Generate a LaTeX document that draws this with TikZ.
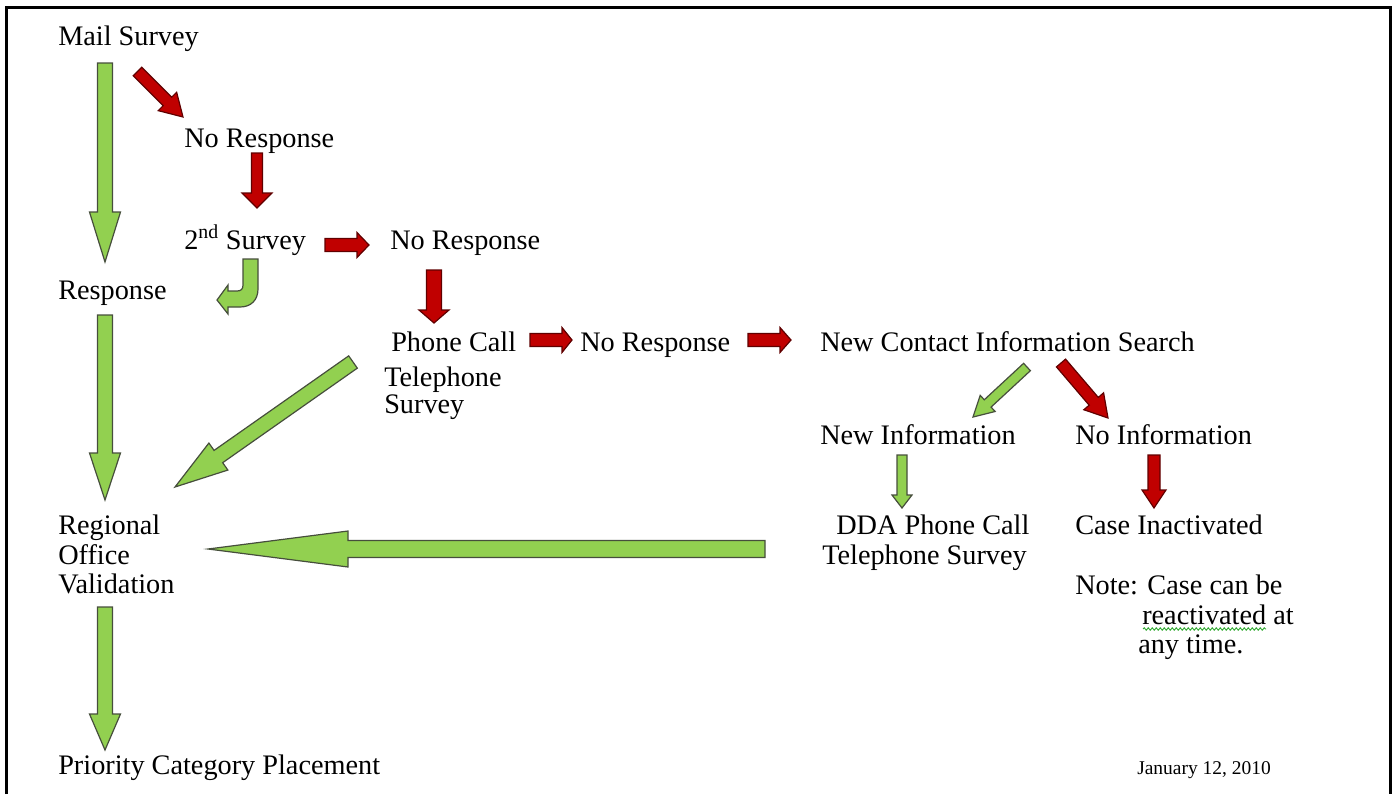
\documentclass[tikz,border=0pt]{standalone}
\usepackage{fontspec}
\setmainfont{Liberation Serif}
\usetikzlibrary{calc,decorations.pathmorphing}
\definecolor{agreen}{RGB}{146,208,80}
\definecolor{gline}{RGB}{70,78,60}
\definecolor{ared}{RGB}{192,0,0}
\definecolor{rline}{RGB}{96,0,0}
\definecolor{wavy}{RGB}{50,170,50}
\newcommand\lblfont{\fontsize{21.2}{25}\selectfont}
\newcommand\datefont{\fontsize{14.6}{17}\selectfont}
% #1 style, #2 tail, #3 tip, #4 half shaft, #5 half head, #6 head length (px)
\newcommand\blockarrow[6]{%
  \path[#1] ($(#2)!#4*0.75pt!90:(#3)$)
   -- ($($(#3)!#6*0.75pt!(#2)$)!#4*0.75pt!-90:(#2)$)
   -- ($($(#3)!#6*0.75pt!(#2)$)!#5*0.75pt!-90:(#2)$)
   -- (#3)
   -- ($($(#3)!#6*0.75pt!(#2)$)!#5*0.75pt!90:(#2)$)
   -- ($($(#3)!#6*0.75pt!(#2)$)!#4*0.75pt!90:(#2)$)
   -- ($(#2)!#4*0.75pt!-90:(#3)$) -- cycle;}
\tikzset{
  garrow/.style={fill=agreen, draw=gline, line width=0.9pt, line join=miter},
  rarrow/.style={fill=ared, draw=rline, line width=0.9pt, line join=miter},
  lbl/.style={anchor=base west, inner sep=0pt, font=\lblfont},
  datelbl/.style={anchor=base west, inner sep=0pt, font=\datefont},
  frame/.style={line width=2.25pt, draw=black},
}
\begin{document}
\begin{tikzpicture}[x=0.75pt,y=-0.75pt]
\useasboundingbox (0,0) rectangle (1393,794);
\draw[frame] (6.5,794) -- (6.5,7.5) -- (1390.5,7.5) -- (1390.5,794);

% labels
\node[lbl] (mail) at (58,45) {Mail Survey};
\node[lbl] (noresp1) at (184,147) {No Response};
\node[lbl] (second) at (184,249) {2\textsuperscript{nd} Survey};
\node[lbl] (noresp2) at (390,249) {No Response};
\node[lbl] (response) at (58,299) {Response};
\node[lbl] (phone) at (391,351) {Phone Call};
\node[lbl] (tel1) at (384,386) {Telephone};
\node[lbl] (tel2) at (384,413) {Survey};
\node[lbl] (noresp3) at (580,351) {No Response};
\node[lbl] (ncis) at (820,351) {New Contact Information Search};
\node[lbl] (newinfo) at (820,444) {New Information};
\node[lbl] (noinfo) at (1075,444) {No Information};
\node[lbl] (reg1) at (58,534) {Regional};
\node[lbl] (reg2) at (58,564) {Office};
\node[lbl] (reg3) at (58,593) {Validation};
\node[lbl] (dda1) at (836,534) {DDA Phone Call};
\node[lbl] (dda2) at (822,564) {Telephone Survey};
\node[lbl] (inact) at (1075,534) {Case Inactivated};
\node[lbl] (note1) at (1075,594) {Note: Case can be};
\node[lbl] (note2) at (1142,624) {reactivated at};
\node[lbl] (note3) at (1138,653) {any time.};
\node[lbl] (prio) at (58,774) {Priority Category Placement};
\node[datelbl] (date) at (1137,774) {January 12, 2010};

\draw[wavy, line width=0.7pt, decorate, decoration={snake, amplitude=0.9pt, segment length=3pt}]
  ($(note2.base west)+(1,5)$) -- ($(note2.base west)+(124,5)$);

% arrow end points
\coordinate (a1s) at (105,63);   \coordinate (a1e) at (105,262);
\coordinate (a2s) at (105,315);  \coordinate (a2e) at (105,500);
\coordinate (a3s) at (105,607);  \coordinate (a3e) at (105,750);
\coordinate (a4s) at (137.5,71.5); \coordinate (a4e) at (183,117);
\coordinate (a5s) at (257,153);  \coordinate (a5e) at (257,208);
\coordinate (a6s) at (325,245);  \coordinate (a6e) at (369,245);
\coordinate (a7s) at (434,270);  \coordinate (a7e) at (434,323);
\coordinate (a8s) at (530,340);  \coordinate (a8e) at (572,340);
\coordinate (a9s) at (748,340);  \coordinate (a9e) at (791,340);
\coordinate (a10s) at (353,362); \coordinate (a10e) at (175,487);
\coordinate (a11s) at (1027,367); \coordinate (a11e) at (973,417);
\coordinate (a12s) at (1061,363); \coordinate (a12e) at (1108,418);
\coordinate (a13s) at (902,455); \coordinate (a13e) at (902,508);
\coordinate (a14s) at (1154,455); \coordinate (a14e) at (1154,508);
\coordinate (a15s) at (765,549); \coordinate (a15e) at (208,549);

% green arrows
\blockarrow{garrow}{a1s}{a1e}{7.5}{15.5}{50}
\blockarrow{garrow}{a2s}{a2e}{7.5}{15.5}{47}
\blockarrow{garrow}{a3s}{a3e}{7.5}{15.5}{36}
\blockarrow{garrow}{a10s}{a10e}{7.5}{16.5}{53}
\blockarrow{garrow}{a11s}{a11e}{5}{11}{20}
\blockarrow{garrow}{a13s}{a13e}{5}{10}{13}
\blockarrow{garrow}{a15s}{a15e}{8.5}{18}{140}
% curved arrow 2nd Survey -> Response
\path[garrow] (243,259) -- (258,259) -- (258,289)
  .. controls (258,300) and (251,307) .. (240,307)
  -- (228,307) -- (228,314) -- (217,300) -- (228,285) -- (228,291) -- (237,291)
  .. controls (241,291) and (243,289) .. (243,285) -- cycle;

% red arrows
\blockarrow{rarrow}{a4s}{a4e}{6}{13}{22}
\blockarrow{rarrow}{a5s}{a5e}{5.5}{15}{15}
\blockarrow{rarrow}{a6s}{a6e}{6.5}{12.5}{12}
\blockarrow{rarrow}{a7s}{a7e}{7.5}{15}{13}
\blockarrow{rarrow}{a8s}{a8e}{6.5}{12.5}{10}
\blockarrow{rarrow}{a9s}{a9e}{6.5}{12.5}{11}
\blockarrow{rarrow}{a12s}{a12e}{6}{13}{22}
\blockarrow{rarrow}{a14s}{a14e}{6}{12}{18}
\end{tikzpicture}
\end{document}
